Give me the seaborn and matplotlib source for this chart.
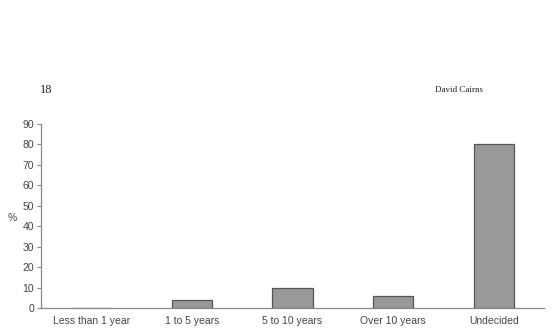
import matplotlib
matplotlib.use("Agg")
import matplotlib.pyplot as plt
import seaborn as sns
import pandas as pd

# survey data: intended length of stay
categories = ["Less than 1 year", "1 to 5 years", "5 to 10 years", "Over 10 years", "Undecided"]
percent = [0, 4, 10, 6, 80]
y_ticks = list(range(0, 100, 10))

df = pd.DataFrame({"category": categories, "percent": percent})

sns.set_style("white")
plt.rcParams["font.family"] = ["Liberation Sans", "DejaVu Sans"]

fig = plt.figure(figsize=(5.52, 3.36), dpi=100)
ax = fig.add_axes([41 / 552, 1 - 308 / 336, 503 / 552, 184 / 336])

sns.barplot(data=df, x="category", y="percent", ax=ax, width=0.4,
            color="#999999", edgecolor="#555555", linewidth=0.9, saturation=1)

ax.set_xlim(-0.5, len(categories) - 0.5)
ax.set_ylim(0, 90)
ax.set_yticks(y_ticks)
ax.set_xlabel("")
ax.set_ylabel("%", rotation=0, fontsize=7.5, color="#444444")
ax.yaxis.set_label_coords(-0.058, 0.46)

# excel-style ticks between categories
ax.set_xticks([i + 0.5 for i in range(len(categories))], minor=True)
ax.tick_params(axis="x", which="major", length=0, labelsize=7.5, labelcolor="#444444", pad=6)
ax.tick_params(axis="x", which="minor", length=3, color="#888888", direction="out")
ax.tick_params(axis="y", length=3, color="#888888", direction="out", labelsize=7.5,
               labelcolor="#444444", pad=2, left=True)

for side in ["top", "right"]:
    ax.spines[side].set_visible(False)
for side in ["left", "bottom"]:
    ax.spines[side].set_color("#888888")
    ax.spines[side].set_linewidth(0.9)

# page header from the book
fig.text(40 / 552, 1 - 90 / 336, "18", family="Liberation Serif", fontsize=9,
         color="#222222", va="center", ha="left")
fig.text(483 / 552, 1 - 90 / 336, "David Cairns", family="Liberation Serif", fontsize=6.5,
         color="#222222", va="center", ha="right")

fig.savefig("out.png", dpi=100)
